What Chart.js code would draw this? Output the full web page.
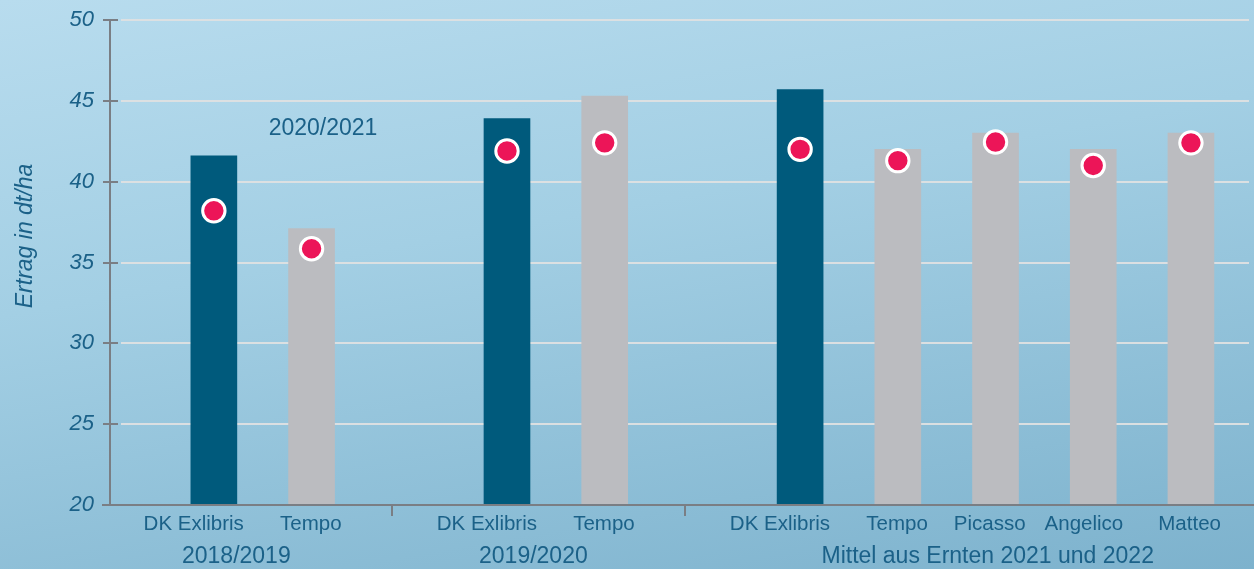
<!DOCTYPE html>
<html>
<head>
<meta charset="utf-8">
<script src="https://cdn.jsdelivr.net/npm/chart.js@4"></script>
<style>
  html, body { margin: 0; padding: 0; overflow: hidden; }
  body { width: 1254px; height: 569px; background: linear-gradient(170deg, #b8dcee 0%, #a3cfe4 40%, #7db2cd 100%); }
  #wrap { width: 1254px; height: 569px; position: relative; }
</style>
</head>
<body>
<div id="wrap"><canvas id="c" width="1254" height="569"></canvas></div>
<script>
// ---- data ----
const categories = ['DK Exlibris', 'Tempo', '', 'DK Exlibris', 'Tempo', '', 'DK Exlibris', 'Tempo', 'Picasso', 'Angelico', 'Matteo'];
const barValues   = [41.6, 37.1, null, 43.9, 45.3, null, 45.7, 42.0, 43.0, 42.0, 43.0];
const pointValues = [38.2, 35.85, null, 41.9, 42.4, null, 42.0, 41.3, 42.45, 41.0, 42.4];
const groupLabels = ['2018/2019', '2019/2020', 'Mittel aus Ernten 2021 und 2022'];
const groupStart  = [0, 3, 6];
const groupEnd    = [1, 4, 10];
const separatorIndex = [2, 5];
const yTicks = [20, 25, 30, 35, 40, 45, 50];
const yTitle = 'Ertrag in dt/ha';
const annotationText = '2020/2021';

// ---- styles ----
const TEXT = '#1b6188';
const DARK = '#005a7c';
const GRAY = '#bbbcc0';
const FONT = "'Liberation Sans', Arial, sans-serif";

const decor = {
  id: 'decor',
  beforeDatasetsDraw(chart) {
    const ctx = chart.ctx, y = chart.scales.y;
    ctx.save();
    ctx.strokeStyle = 'rgba(222,224,226,0.95)';
    ctx.lineWidth = 2;
    yTicks.forEach(v => {
      if (v === 20) return;
      const py = Math.round(y.getPixelForValue(v));
      ctx.beginPath(); ctx.moveTo(121, py); ctx.lineTo(1249, py); ctx.stroke();
    });
    ctx.restore();
  },
  afterDatasetsDraw(chart) {
    const ctx = chart.ctx, y = chart.scales.y, x = chart.scales.x;
    const axisX = 110, bottom = Math.round(y.getPixelForValue(20)), top = Math.round(y.getPixelForValue(50));
    ctx.save();
    ctx.strokeStyle = '#7a7e84';
    ctx.lineWidth = 2;
    ctx.beginPath(); ctx.moveTo(axisX, top); ctx.lineTo(axisX, bottom); ctx.stroke();
    yTicks.forEach(v => {
      const py = Math.round(y.getPixelForValue(v));
      ctx.beginPath(); ctx.moveTo(103, py); ctx.lineTo(v === 20 ? axisX : 118, py); ctx.stroke();
    });
    ctx.beginPath(); ctx.moveTo(102, bottom); ctx.lineTo(1254, bottom); ctx.stroke();
    separatorIndex.forEach(i => {
      const px = Math.round(x.getPixelForValue(i)) - 17;
      ctx.beginPath(); ctx.moveTo(px, bottom); ctx.lineTo(px, bottom + 11); ctx.stroke();
    });
    ctx.restore();
  },
  afterDraw(chart) {
    const ctx = chart.ctx, x = chart.scales.x;
    ctx.save();
    ctx.fillStyle = TEXT;
    ctx.font = '23px ' + FONT;
    ctx.textAlign = 'center';
    ctx.textBaseline = 'alphabetic';
    const frac = [0.23, 0.27, 0.48];
    groupLabels.forEach((g, i) => {
      const a = x.getPixelForValue(groupStart[i]), b = x.getPixelForValue(groupEnd[i]);
      ctx.fillText(g, a + (b - a) * frac[i], 563);
    });
    ctx.fillText(annotationText, 323, 135);
    ctx.font = 'italic 23px ' + FONT;
    ctx.translate(32, 236);
    ctx.rotate(-Math.PI / 2);
    ctx.fillText(yTitle, 0, 0);
    ctx.restore();
  }
};

new Chart(document.getElementById('c'), {
  data: {
    labels: categories,
    datasets: [
      {
        type: 'line',
        label: 'Punkte',
        data: pointValues,
        showLine: false,
        order: 0,
        pointRadius: 11.2,
        pointHoverRadius: 11.2,
        pointBackgroundColor: '#ec1558',
        pointBorderColor: '#ffffff',
        pointBorderWidth: 3,
      },
      {
        type: 'bar',
        label: 'Ertrag',
        data: barValues,
        order: 1,
        barThickness: 46,
        backgroundColor: categories.map(c => c === 'DK Exlibris' ? DARK : GRAY),
        borderWidth: 0,
      }
    ]
  },
  options: {
    responsive: false,
    animation: false,
    events: [],
    layout: { padding: { top: 20, right: 10, left: 0, bottom: 0 } },
    plugins: { legend: { display: false }, tooltip: { enabled: false } },
    scales: {
      x: {
        type: 'category',
        offset: true,
        grid: { display: false, drawTicks: false },
        border: { display: false },
        ticks: { color: TEXT, font: { family: FONT, size: 20.5 }, padding: 7, maxRotation: 0, autoSkip: false, align: 'end', labelOffset: 30 },
        afterFit(s) { s.height = 64; s.paddingLeft = 0; s.paddingRight = 0; }
      },
      y: {
        min: 20, max: 50,
        afterBuildTicks(s) { s.ticks = yTicks.map(v => ({ value: v })); },
        grid: { display: false, drawTicks: false },
        border: { display: false },
        ticks: { color: TEXT, font: { family: FONT, size: 22, style: 'italic' }, padding: 71 },
        afterFit(s) { s.width = 165; s.paddingTop = 0; s.paddingBottom = 0; }
      }
    }
  },
  plugins: [decor]
});
</script>
</body>
</html>
